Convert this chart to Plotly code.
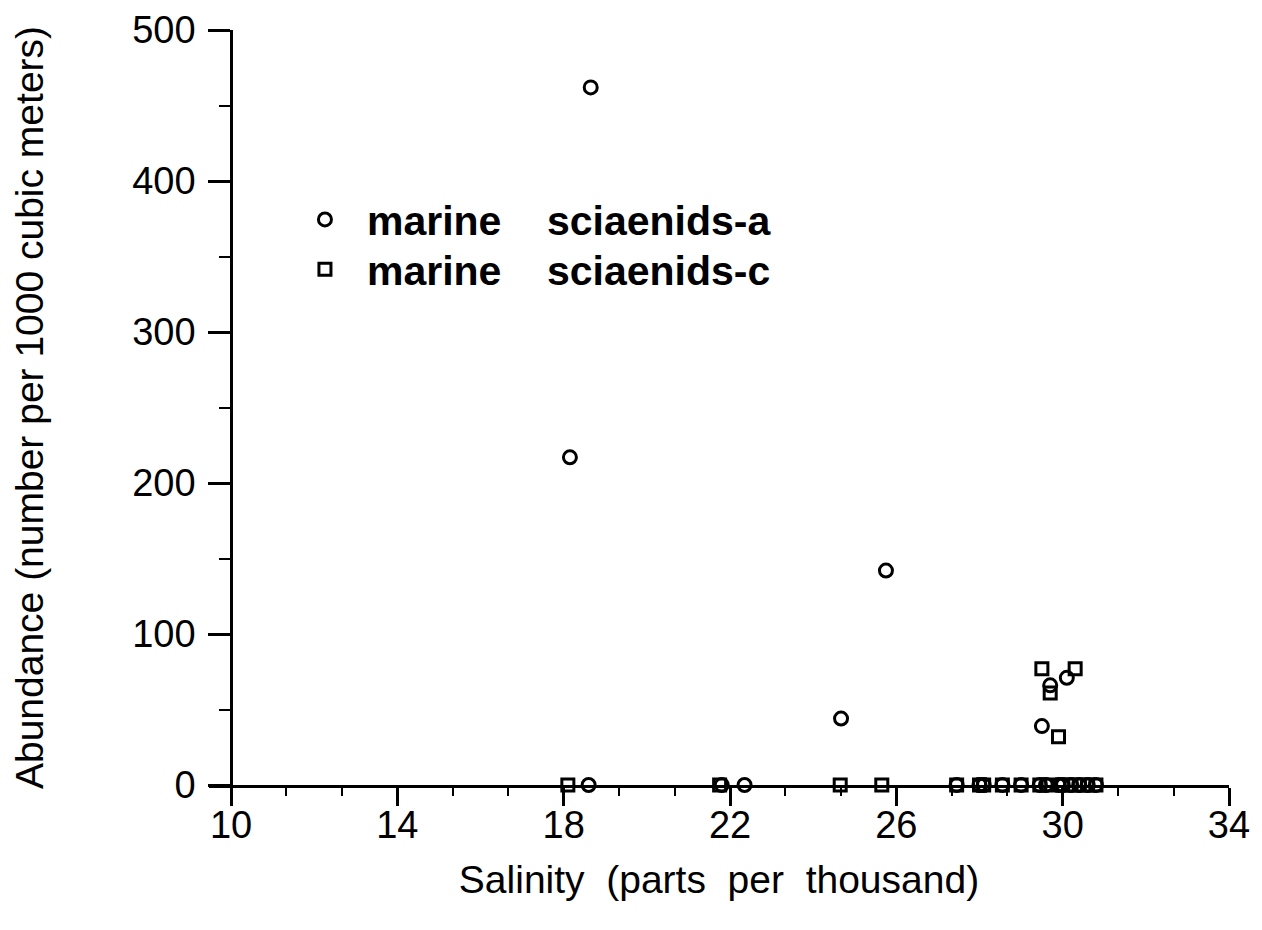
import plotly.graph_objects as go

# Data: marine sciaenids-a (circles)
a_sal = [18.65, 18.15, 25.75, 24.67, 29.5, 29.7, 30.1,
         18.6, 21.8, 22.35, 27.45, 28.0, 28.1, 28.55, 29.0, 29.45, 29.6, 29.9, 30.0, 30.2, 30.4, 30.6, 30.8]
a_abund = [462, 217, 142, 44, 39, 66, 71,
           0, 0, 0, 0, 0, 0, 0, 0, 0, 0, 0, 0, 0, 0, 0, 0]

# Data: marine sciaenids-c (squares)
c_sal = [29.5, 29.7, 30.3, 29.9,
         18.1, 21.75, 24.65, 25.65, 27.45, 28.0, 28.1, 28.55, 29.0, 29.45, 29.65, 30.0, 30.2, 30.4, 30.6, 30.8]
c_abund = [77, 61, 77, 32,
           0, 0, 0, 0, 0, 0, 0, 0, 0, 0, 0, 0, 0, 0, 0, 0]

x_ticks = [10, 14, 18, 22, 26, 30, 34]
y_ticks = [0, 100, 200, 300, 400, 500]

FONT = "Liberation Sans, Arial, Helvetica, sans-serif"
X0 = 9.47
X1 = 34.0

fig = go.Figure()
fig.add_trace(go.Scatter(
    x=a_sal, y=a_abund, mode="markers", name="marine    sciaenids-a",
    marker=dict(symbol="circle-open", size=13, color="black", line=dict(width=3, color="black")),
    cliponaxis=False, legend="legend",
))
fig.add_trace(go.Scatter(
    x=c_sal, y=c_abund, mode="markers", name="marine    sciaenids-c",
    marker=dict(symbol="square-open", size=12, color="black", line=dict(width=3, color="black")),
    cliponaxis=False, legend="legend2",
))

legend_font = dict(size=41, family="Liberation Sans, Arial", weight="bold", color="black")

fig.update_layout(
    width=1246, height=914,
    margin=dict(l=201, r=25, t=22, b=137),
    paper_bgcolor="white", plot_bgcolor="white",
    font=dict(family=FONT, color="black"),
    showlegend=True,
    legend=dict(x=0.0725, y=0.793, xanchor="left", yanchor="top",
                font=legend_font, itemwidth=74, bgcolor="rgba(0,0,0,0)"),
    legend2=dict(x=0.0725, y=0.727, xanchor="left", yanchor="top",
                 font=legend_font, itemwidth=74, bgcolor="rgba(0,0,0,0)"),
    xaxis=dict(
        range=[X0, X1], showgrid=False, zeroline=False, automargin=False,
        showline=True, linecolor="black", linewidth=2.8,
        tickmode="array", tickvals=x_ticks, ticktext=[str(v) for v in x_ticks],
        ticks="outside", ticklen=18, tickwidth=2.5, tickcolor="black",
        minor=dict(tick0=10, dtick=4 / 3, ticks="outside", ticklen=8, tickwidth=2, tickcolor="black"),
        tickfont=dict(size=38, family=FONT),
        ticklabelstandoff=-14,
        title=dict(text="Salinity  (parts  per  thousand)", font=dict(size=39, family=FONT), standoff=22),
    ),
    yaxis=dict(
        range=[0, 500], showgrid=False, zeroline=False, automargin=False,
        anchor="free", position=(10 - X0) / (X1 - X0),
        showline=True, linecolor="black", linewidth=2.8,
        tickmode="array", tickvals=y_ticks, ticktext=[str(v) for v in y_ticks],
        ticks="outside", ticklen=22, tickwidth=2.5, tickcolor="black",
        minor=dict(dtick=50, ticks="outside", ticklen=11, tickwidth=2, tickcolor="black"),
        tickfont=dict(size=38, family=FONT),
        ticklabelstandoff=5,
        title=dict(text="Abundance (number per 1000 cubic meters)", font=dict(size=39, family=FONT), standoff=76),
    ),
)

fig.write_html("out.html")
